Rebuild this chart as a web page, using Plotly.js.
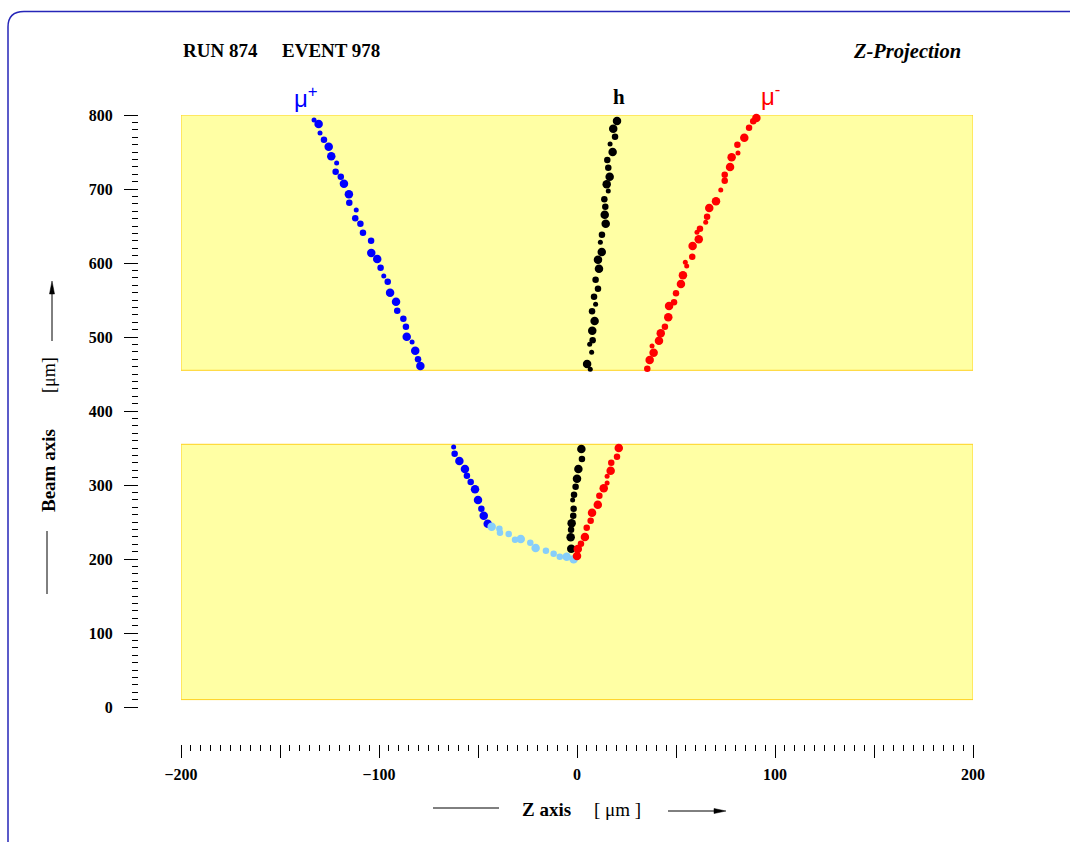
<!DOCTYPE html>
<html>
<head>
<meta charset="utf-8">
<script src="https://cdn.plot.ly/plotly-3.0.1.min.js"></script>
<style>html,body{margin:0;padding:0;background:#fff;}#chart{width:1070px;height:842px;}</style>
</head>
<body>
<div id="chart"></div>
<script>
// ---- data (Z position in µm, beam-axis position in µm, grain class 1=small 2=medium 3=large) ----
const muPlusZ = [-132.8,-130.5,-129.8,-127.8,-125.4,-124.1,-121.4,-121.9,-119.3,-117.7,-115.2,-115.0,-111.5,-112.0,-109.4,-108.1,-104.0,-103.9,-100.9,-99.2,-97.6,-95.6,-94.4,-91.4,-90.8,-87.7,-86.4,-86.0,-83.3,-81.7,-80.3,-79.1,
  -62.3,-61.8,-59.4,-56.6,-55.6,-53.7,-51.5,-50.0,-48.3,-47.1,-45.1];
const muPlusY = [793.2,787.8,775.7,766.6,757.2,744.2,735.1,723.4,716.6,707.2,692.8,681.5,671.6,660.4,653.1,640.9,630.1,613.5,605.4,593.6,582.4,574.7,559.9,547.7,535.5,524.7,513.9,500.4,493.2,481.5,469.9,460.8,
  351.4,342.3,332.4,321.6,312.6,304.1,294.2,279.7,268.0,258.5,247.7];
const muPlusG = [1,3,1,2,3,3,1,2,2,3,3,2,1,2,2,2,2,3,3,2,1,2,3,3,2,2,2,3,1,3,2,3,
  1,2,3,3,2,2,3,3,2,3,3];

const connZ = [-43.1,-39.2,-38.9,-34.5,-31.3,-28.4,-23.6,-20.9,-15.7,-11.8,-8.7,-5.2,-1.7];
const connY = [243.6,240.9,235.5,233.8,226.1,227.0,222.0,214.9,211.2,207.2,203.1,203.1,199.6];
const connG = [3,2,2,2,2,3,2,3,2,2,2,3,3];

const hadZ = [20.2,18.3,19.2,16.7,18.0,15.3,15.8,16.5,15.0,15.8,13.8,14.3,14.0,14.5,12.6,11.8,12.5,10.6,11.1,9.4,10.6,8.6,9.4,7.6,8.9,7.7,7.9,6.4,7.4,5.1,6.7,
  2.2,2.5,0.7,0.0,-0.7,-1.5,-2.2,-1.7,-1.9,-2.7,-3.0,-3.2,-2.9];
const hadY = [791.9,781.5,770.7,760.8,750.0,739.2,728.8,716.6,706.4,697.3,686.1,676.1,665.3,653.1,638.2,628.0,614.9,604.5,592.3,577.4,565.3,554.5,544.2,534.7,521.6,508.5,495.5,490.1,479.3,463.5,456.4,
  348.6,335.1,321.6,308.5,297.7,286.9,279.7,268.0,258.5,248.2,239.6,229.3,213.9];
const hadG = [3,3,2,1,3,2,2,3,3,1,2,2,3,3,2,1,3,3,3,2,2,2,1,2,3,3,2,1,1,3,1,
  3,2,3,3,2,2,1,2,2,3,2,3,3];

const muMinusZ = [90.6,89.0,86.9,84.5,81.0,81.3,78.1,77.3,74.6,74.6,72.6,70.2,66.8,65.7,65.0,62.1,60.6,61.5,58.4,58.2,54.7,55.4,53.5,52.5,50.0,49.0,46.5,46.1,44.4,42.3,41.4,37.9,38.7,36.7,35.5,
  21.1,20.2,17.3,17.0,15.2,15.2,13.5,11.3,10.5,7.6,6.9,4.9,4.0,2.0,0.4,0.0];
const muMinusY = [795.9,791.5,782.8,769.3,759.9,748.6,742.8,729.7,719.3,711.2,698.6,683.4,674.3,662.6,655.0,646.4,641.5,632.0,623.0,608.5,600.9,595.9,583.4,571.6,559.1,546.9,541.9,526.6,513.9,505.0,495.0,487.8,478.8,468.9,457.2,
  350.0,338.2,330.1,319.3,311.8,302.7,295.5,285.5,273.4,262.6,251.8,242.3,229.7,220.7,213.5,204.1];
const muMinusG = [3,2,2,3,2,1,3,3,2,2,1,3,3,2,1,2,1,3,3,2,1,1,3,3,2,2,3,3,2,3,3,1,3,3,2,
  3,2,2,3,1,1,3,2,3,3,2,2,3,2,3,3];

// emulsion layers (beam axis, µm) and gap
const emulsionLower = [10, 355];
const emulsionUpper = [455, 800];
const zRange = [-200, 200];
const yRange = [0, 800];
const xLabelVals = [-200,-100,0,100,200];
const xLabelText = ['\u2212200','\u2212100','0','100','200'];
const xHalfVals = [-150,-50,50,150];

// ---- rendering ----
const W = 1070, H = 842;
const px = v => v / W;          // pixel x -> paper
const py = v => 1 - v / H;      // pixel y -> paper
const grainPx = g => g === 1 ? 5 : (g === 2 ? 6.5 : 8.5);

function track(z, y, g, color) {
  return {
    type: 'scatter', mode: 'markers', x: z, y: y, hoverinfo: 'skip',
    marker: {color: color, size: g.map(grainPx), opacity: 1, line: {width: 0}},
    showlegend: false, cliponaxis: false
  };
}

const data = [
  track(muPlusZ, muPlusY, muPlusG, '#0000ff'),
  track(connZ, connY, connG, '#87cefa'),
  track(hadZ, hadY, hadG, '#000000'),
  track(muMinusZ, muMinusY, muMinusG, '#ff0000'),
  // carrier for the secondary tick axis (no visible marks)
  {type: 'scatter', mode: 'markers', x: [], y: [], xaxis: 'x2', yaxis: 'y', showlegend: false, hoverinfo: 'skip'}
];

const serif = 'Liberation Serif, Times New Roman, serif';
const sans = 'Liberation Sans, Arial, sans-serif';

const layout = {
  width: W, height: H,
  margin: {l: 0, r: 0, t: 0, b: 0},
  paper_bgcolor: '#ffffff', plot_bgcolor: 'rgba(0,0,0,0)',
  showlegend: false,
  xaxis: {
    domain: [px(181), px(973)], range: zRange, anchor: 'free', position: py(744),
    showgrid: false, zeroline: false, showline: false,
    tickmode: 'array', tickvals: xLabelVals, ticktext: xLabelText,
    ticks: 'outside', ticklen: 13, tickwidth: 1, tickcolor: '#000',
    ticklabelstandoff: 3,
    minor: {dtick: 5, tick0: 0, ticks: 'outside', ticklen: 6, tickwidth: 1, tickcolor: '#000', showgrid: false},
    tickfont: {family: serif, size: 16, color: '#000', weight: 'bold'},
    fixedrange: true
  },
  xaxis2: {
    domain: [px(181), px(973)], range: zRange, anchor: 'free', position: py(744), overlaying: 'x',
    showgrid: false, zeroline: false, showline: false, showticklabels: false,
    tickmode: 'array', tickvals: xHalfVals,
    ticks: 'outside', ticklen: 13, tickwidth: 1, tickcolor: '#000',
    fixedrange: true
  },
  yaxis: {
    domain: [py(707), py(115)], range: yRange, anchor: 'free', position: px(138),
    showgrid: false, zeroline: false, showline: false,
    tickmode: 'linear', tick0: 0, dtick: 100,
    ticks: 'outside', ticklen: 14, tickwidth: 1, tickcolor: '#000',
    ticklabelstandoff: 8,
    minor: {dtick: 10, tick0: 0, ticks: 'outside', ticklen: 6, tickwidth: 1, tickcolor: '#000', showgrid: false},
    tickfont: {family: serif, size: 16, color: '#000', weight: 'bold'},
    fixedrange: true
  },
  shapes: [
    // frame
    {type: 'path', xref: 'paper', yref: 'paper', layer: 'below',
     path: `M ${px(1080)},${py(11.5)} L ${px(24)},${py(11.5)} Q ${px(8)},${py(11.5)} ${px(8)},${py(27)} L ${px(8)},${py(850)}`,
     line: {color: '#2626b8', width: 1.5}},
    // emulsion layers
    {type: 'rect', xref: 'x', yref: 'y', layer: 'below', x0: zRange[0], x1: zRange[1], y0: emulsionLower[0], y1: emulsionLower[1],
     fillcolor: '#ffffa4', line: {color: '#ffd21e', width: 1}},
    {type: 'rect', xref: 'x', yref: 'y', layer: 'below', x0: zRange[0], x1: zRange[1], y0: emulsionUpper[0], y1: emulsionUpper[1],
     fillcolor: '#ffffa4', line: {color: '#ffd21e', width: 1}},
    // x-title line and arrow
    {type: 'line', xref: 'paper', yref: 'paper', x0: px(433), x1: px(499), y0: py(808), y1: py(808), line: {color: '#000', width: 1}},
    {type: 'line', xref: 'paper', yref: 'paper', x0: px(668), x1: px(716), y0: py(811), y1: py(811), line: {color: '#000', width: 1}},
    {type: 'path', xref: 'paper', yref: 'paper', fillcolor: '#000', line: {color: '#000', width: 0.5},
     path: `M ${px(714)},${py(808.5)} L ${px(726)},${py(811)} L ${px(714)},${py(813.5)} Z`},
    // y-title line and arrow
    {type: 'line', xref: 'paper', yref: 'paper', x0: px(47), x1: px(47), y0: py(531), y1: py(594), line: {color: '#000', width: 1}},
    {type: 'line', xref: 'paper', yref: 'paper', x0: px(52), x1: px(52), y0: py(341), y1: py(292), line: {color: '#000', width: 1}},
    {type: 'path', xref: 'paper', yref: 'paper', fillcolor: '#000', line: {color: '#000', width: 0.5},
     path: `M ${px(49.5)},${py(294)} L ${px(52)},${py(281)} L ${px(54.5)},${py(294)} Z`}
  ],
  annotations: [
    {xref: 'paper', yref: 'paper', x: px(181), y: py(51), xanchor: 'left', yanchor: 'middle', showarrow: false,
     text: '<b>RUN 874</b>', font: {family: serif, size: 19, color: '#000'}},
    {xref: 'paper', yref: 'paper', x: px(280), y: py(51), xanchor: 'left', yanchor: 'middle', showarrow: false,
     text: '<b>EVENT 978</b>', font: {family: serif, size: 19, color: '#000'}},
    {xref: 'paper', yref: 'paper', x: px(963), y: py(52), xanchor: 'right', yanchor: 'middle', showarrow: false,
     text: '<b><i>Z-Projection</i></b>', font: {family: serif, size: 20.5, color: '#000'}},
    {xref: 'paper', yref: 'paper', x: px(292), y: py(97), xanchor: 'left', yanchor: 'middle', showarrow: false,
     text: '\u03bc<sup>+</sup>', font: {family: sans, size: 24, color: '#0000ff'}},
    {xref: 'paper', yref: 'paper', x: px(619), y: py(97), xanchor: 'center', yanchor: 'middle', showarrow: false,
     text: '<b>h</b>', font: {family: serif, size: 21, color: '#000'}},
    {xref: 'paper', yref: 'paper', x: px(759), y: py(95), xanchor: 'left', yanchor: 'middle', showarrow: false,
     text: '\u03bc<sup>-</sup>', font: {family: sans, size: 24, color: '#ff0000'}},
    // x title
    {xref: 'paper', yref: 'paper', x: px(546), y: py(809), xanchor: 'center', yanchor: 'middle', showarrow: false,
     text: '<b>Z axis</b>', font: {family: serif, size: 19, color: '#000'}},
    {xref: 'paper', yref: 'paper', x: px(617), y: py(809), xanchor: 'center', yanchor: 'middle', showarrow: false,
     text: '[ \u03bcm ]', font: {family: serif, size: 19, color: '#000'}},
    // y title
    {xref: 'paper', yref: 'paper', x: px(48), y: py(470), xanchor: 'center', yanchor: 'middle', showarrow: false, textangle: -90,
     text: '<b>Beam axis</b>', font: {family: serif, size: 19, color: '#000'}},
    {xref: 'paper', yref: 'paper', x: px(49), y: py(375), xanchor: 'center', yanchor: 'middle', showarrow: false, textangle: -90,
     text: '[\u03bcm]', font: {family: serif, size: 18, color: '#000'}}
  ]
};

Plotly.newPlot('chart', data, layout, {staticPlot: true, displayModeBar: false});
</script>
</body>
</html>
